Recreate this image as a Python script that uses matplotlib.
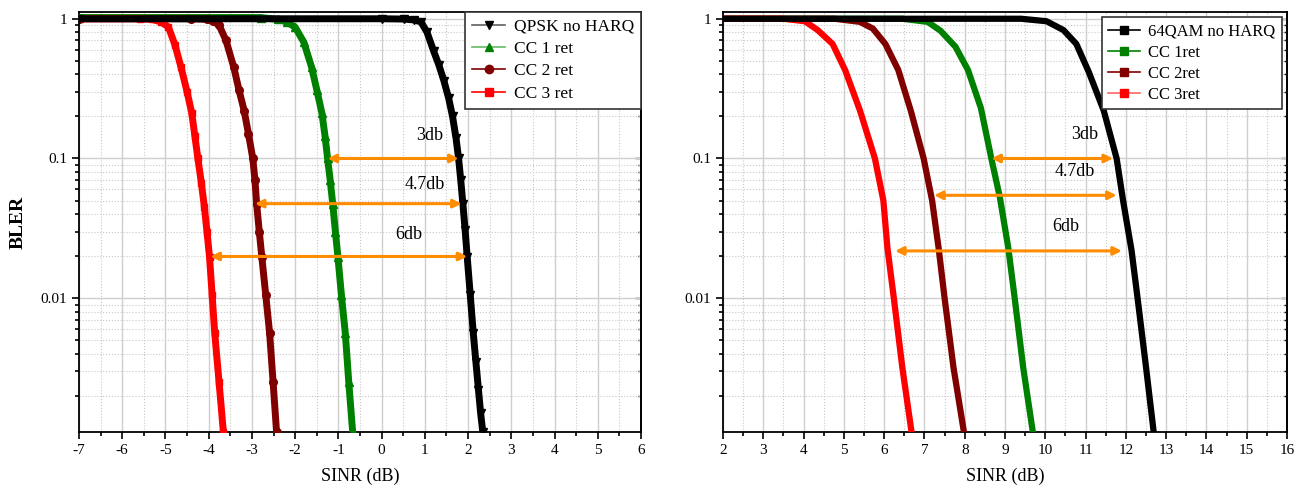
import numpy as np
import matplotlib
matplotlib.use("Agg")
from matplotlib import pyplot as plt
from matplotlib.ticker import FixedLocator, LogLocator, NullFormatter

plt.rcParams['font.family'] = ['Liberation Serif', 'DejaVu Serif']
plt.rcParams['axes.unicode_minus'] = False

# left panel: QPSK
qpsk_x = [-7.0, 0.0, 0.52, 0.75, 0.91, 1.05, 1.2, 1.32, 1.44, 1.55, 1.64, 1.72, 1.78, 1.83, 1.88,
          1.93, 1.98, 2.05, 2.12, 2.18, 2.24, 2.29, 2.34]
qpsk_y = [1.0, 1.0, 0.995, 0.98, 0.95, 0.8, 0.59, 0.47, 0.36, 0.27, 0.2, 0.14, 0.1, 0.07, 0.047,
          0.031, 0.0196, 0.0105, 0.0056, 0.0035, 0.0022, 0.0015, 0.0011]
cc1_x = [-7.0, -2.8, -2.4, -2.2, -2.0, -1.8, -1.62, -1.5, -1.38, -1.31, -1.25, -1.19, -1.13, -1.07,
         -1.01, -0.93, -0.84, -0.76, -0.67]
cc1_y = [1.02, 1.02, 0.99, 0.95, 0.87, 0.68, 0.45, 0.31, 0.21, 0.145, 0.1, 0.07, 0.047, 0.03,
         0.0196, 0.0105, 0.0056, 0.0025, 0.0011]
cc2_x = [-7.0, -4.4, -4.05, -3.9, -3.76, -3.6, -3.42, -3.3, -3.18, -3.08, -2.98, -2.93, -2.89,
         -2.83, -2.77, -2.68, -2.59, -2.51, -2.43]
cc2_y = [1.0, 1.0, 0.99, 0.96, 0.9, 0.7, 0.45, 0.31, 0.22, 0.15, 0.1, 0.07, 0.047, 0.03, 0.0196,
         0.0105, 0.0056, 0.0025, 0.0011]
cc3_x = [-7.0, -5.6, -5.32, -5.1, -4.93, -4.78, -4.64, -4.5, -4.39, -4.32, -4.25, -4.17, -4.1,
         -4.04, -3.98, -3.92, -3.86, -3.76, -3.66]
cc3_y = [1.0, 1.0, 0.99, 0.95, 0.87, 0.65, 0.45, 0.3, 0.21, 0.145, 0.1, 0.067, 0.045, 0.03,
         0.0196, 0.0105, 0.0056, 0.0025, 0.0011]

# right panel: 64QAM
qam_x = [2.0, 9.4, 10.03, 10.45, 10.77, 11.08, 11.45, 11.77, 11.93, 12.14, 12.29, 12.5, 12.69]
qam_y = [1.0, 1.0, 0.96, 0.83, 0.66, 0.415, 0.22, 0.1, 0.05, 0.022, 0.01, 0.0032, 0.0011]
r1_x = [2.0, 6.45, 7.08, 7.4, 7.77, 8.08, 8.4, 8.66, 8.87, 9.08, 9.24, 9.45, 9.69]
r1_y = [1.0, 1.0, 0.95, 0.82, 0.63, 0.43, 0.23, 0.1, 0.053, 0.023, 0.01, 0.0032, 0.0011]
r2_x = [2.0, 4.77, 5.4, 5.72, 6.03, 6.35, 6.66, 6.98, 7.19, 7.35, 7.5, 7.72, 7.98]
r2_y = [1.0, 1.0, 0.95, 0.85, 0.66, 0.43, 0.22, 0.1, 0.05, 0.023, 0.01, 0.0032, 0.0011]
r3_x = [2.0, 3.5, 4.03, 4.35, 4.72, 5.03, 5.4, 5.77, 5.98, 6.08, 6.24, 6.45, 6.68]
r3_y = [1.0, 1.0, 0.96, 0.83, 0.66, 0.43, 0.22, 0.1, 0.05, 0.023, 0.01, 0.0032, 0.0011]

# gain arrows: (x_start, x_end, y, label, label_x, label_y)
left_arrows = [(-1.25, 1.78, 0.1, '3db', 1.1, 0.127),
               (-2.93, 1.85, 0.0475, '4.7db', 1.0, 0.0565),
               (-3.96, 1.98, 0.0199, '6db', 0.62, 0.025)]
right_arrows = [(8.66, 11.68, 0.1, '3db', 10.98, 0.129),
                (7.24, 11.77, 0.0545, '4.7db', 10.72, 0.0696),
                (6.27, 11.9, 0.0218, '6db', 10.5, 0.0285)]

BLACK, GREEN, BROWN, RED, ORANGE = 'black', '#008000', '#800000', '#ff0000', '#ff8c00'

fig = plt.figure(figsize=(12.99, 4.95), dpi=100)
ax1 = fig.add_axes([0.0608, 0.127, 0.4327, 0.849])
ax2 = fig.add_axes([0.5566, 0.127, 0.4342, 0.849])


def style(ax, xmin, xmax):
    ax.set_yscale('log')
    ax.set_xlim(xmin, xmax)
    ax.set_ylim(0.0011, 1.12)
    ax.xaxis.set_major_locator(FixedLocator(np.arange(xmin, xmax + 1)))
    ax.xaxis.set_minor_locator(FixedLocator(np.arange(xmin, xmax, 1) + 0.5))
    ax.yaxis.set_major_locator(FixedLocator([0.01, 0.1, 1]))
    ax.yaxis.set_major_formatter(plt.FuncFormatter(lambda v, p: {0.01: '0.01', 0.1: '0.1', 1: '1'}.get(round(v, 3), '')))
    ax.yaxis.set_minor_locator(LogLocator(base=10, subs=np.arange(2, 10)))
    ax.yaxis.set_minor_formatter(NullFormatter())
    ax.grid(True, which='major', color='#cfcfcf', lw=1.0, ls='-')
    ax.grid(True, which='minor', color='#c8c8c8', lw=0.8, ls=':')
    ax.set_axisbelow(True)
    ax.tick_params(which='both', direction='out', labelsize=11, right=False, top=False, width=1.2)
    ax.tick_params(which='major', length=5)
    ax.tick_params(which='minor', length=3)
    for s in ax.spines.values():
        s.set_linewidth(1.3)
    # small inward ticks on the right spine
    sec = ax.secondary_yaxis('right')
    sec.yaxis.set_major_locator(FixedLocator([0.01, 0.1, 1]))
    sec.yaxis.set_minor_locator(LogLocator(base=10, subs=np.arange(2, 10)))
    sec.tick_params(which='both', direction='in', labelright=False, width=1.0)
    sec.tick_params(which='major', length=4)
    sec.tick_params(which='minor', length=2)
    sec.spines['right'].set_linewidth(1.3)
    ax.set_xlabel('SINR (dB)', fontsize=13, labelpad=8)


def arrows(ax, items):
    for x0, x1, y, txt, tx, ty in items:
        ax.annotate('', xy=(x1, y), xytext=(x0, y),
                    arrowprops=dict(arrowstyle='<|-|>', color=ORANGE, lw=2.2,
                                    mutation_scale=12, shrinkA=0, shrinkB=0),
                    zorder=6)
        ax.text(tx, ty, txt, fontsize=13, ha='center', va='bottom', zorder=6)


style(ax1, -7, 6)
ax1.plot(qpsk_x, qpsk_y, color=BLACK, lw=5, marker='v', ms=6, zorder=5)
ax1.plot(cc1_x, cc1_y, color=GREEN, lw=5, marker='^', ms=6, zorder=4)
ax1.plot(cc2_x, cc2_y, color=BROWN, lw=5, marker='o', ms=5.5, zorder=4)
ax1.plot(cc3_x, cc3_y, color=RED, lw=5, marker='s', ms=5, zorder=4)
arrows(ax1, left_arrows)
ax1.set_ylabel('BLER', fontsize=14, fontweight='bold', labelpad=10)
h = [plt.Line2D([], [], color=lc, lw=1.2, marker=m, ms=6, markerfacecolor=c, markeredgecolor=c)
     for lc, c, m in [('#606060', BLACK, 'v'), ('#66bb66', GREEN, '^'),
                      (BROWN, BROWN, 'o'), (RED, RED, 's')]]
leg = ax1.legend(h, ['QPSK no HARQ', 'CC 1 ret', 'CC 2 ret', 'CC 3 ret'], loc='upper right',
                 fontsize=12.5, fancybox=False, edgecolor='#333333', framealpha=1,
                 borderaxespad=0.0, handlelength=1.9, handletextpad=0.5,
                 labelspacing=0.35, borderpad=0.4)
leg.get_frame().set_linewidth(1.2)
leg.set_zorder(10)

style(ax2, 2, 16)
ax2.plot(qam_x, qam_y, color=BLACK, lw=4.5, zorder=5)
ax2.plot(r1_x, r1_y, color=GREEN, lw=4.5, zorder=4)
ax2.plot(r2_x, r2_y, color=BROWN, lw=4.5, zorder=4)
ax2.plot(r3_x, r3_y, color=RED, lw=4.5, zorder=4)
arrows(ax2, right_arrows)
h2 = [plt.Line2D([], [], color=lc, lw=1.2, marker='s', ms=6, markerfacecolor=c, markeredgecolor=c)
      for lc, c in [(BLACK, BLACK), (GREEN, GREEN), (BROWN, BROWN), ('#ff6666', RED)]]
leg2 = ax2.legend(h2, ['64QAM no HARQ', 'CC 1ret', 'CC 2ret', 'CC 3ret'], loc='upper right',
                  fontsize=12, fancybox=False, edgecolor='#333333', framealpha=1,
                  borderaxespad=0.3, handlelength=1.9, handletextpad=0.5,
                  labelspacing=0.3, borderpad=0.4)
leg2.get_frame().set_linewidth(1.2)
leg2.set_zorder(10)

fig.savefig('out.png', dpi=100)
